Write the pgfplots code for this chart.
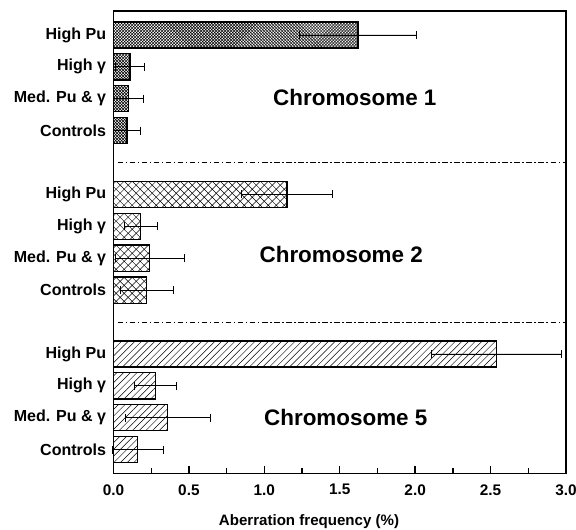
\documentclass[border=0pt]{standalone}
\usepackage{fontspec}
\setmainfont{Liberation Sans}
\usepackage{pgfplots}
\pgfplotsset{compat=1.18}
\usepackage{pgfplotstable}
\usetikzlibrary{patterns}

\pgfdeclarepatternformonly{densecross}{\pgfqpoint{-0.5pt}{-0.5pt}}{\pgfqpoint{2.75pt}{2.75pt}}{\pgfqpoint{2.25pt}{2.25pt}}{%
  \pgfsetlinewidth{0.35pt}%
  \pgfpathmoveto{\pgfqpoint{0pt}{0pt}}\pgfpathlineto{\pgfqpoint{2.25pt}{2.25pt}}%
  \pgfpathmoveto{\pgfqpoint{0pt}{2.25pt}}\pgfpathlineto{\pgfqpoint{2.25pt}{0pt}}%
  \pgfusepath{stroke}}
\pgfdeclarepatternformonly{widecross}{\pgfqpoint{-0.5pt}{-0.5pt}}{\pgfqpoint{6.5pt}{6.5pt}}{\pgfqpoint{6pt}{6pt}}{%
  \pgfsetlinewidth{0.35pt}%
  \pgfpathmoveto{\pgfqpoint{0pt}{0pt}}\pgfpathlineto{\pgfqpoint{6pt}{6pt}}%
  \pgfpathmoveto{\pgfqpoint{0pt}{6pt}}\pgfpathlineto{\pgfqpoint{6pt}{0pt}}%
  \pgfusepath{stroke}}
\pgfdeclarepatternformonly{nelines}{\pgfqpoint{-0.5pt}{-0.5pt}}{\pgfqpoint{5.5pt}{5.5pt}}{\pgfqpoint{5pt}{5pt}}{%
  \pgfsetlinewidth{0.35pt}%
  \pgfpathmoveto{\pgfqpoint{0pt}{0pt}}\pgfpathlineto{\pgfqpoint{5pt}{5pt}}%
  \pgfusepath{stroke}}

\pgfplotstableread{
p v e
13 1.62 0.39
12 0.11 0.095
11 0.10 0.10
10 0.09 0.09
}\chrone
\pgfplotstableread{
p v e
8 1.15 0.30
7 0.18 0.11
6 0.24 0.23
5 0.22 0.175
}\chrtwo
\pgfplotstableread{
p v e
3 2.54 0.43
2 0.28 0.14
1 0.36 0.28
0 0.16 0.17
}\chrfive

\begin{document}
\begin{tikzpicture}
\begin{axis}[
  scale only axis,
  width=339pt, height=346.5pt,
  xmin=0, xmax=3, ymin=-0.75, ymax=13.75,
  axis line style={line width=1pt},
  xtick={0,0.5,...,3},
  minor x tick num=1,
  xtick pos=bottom,
  tick align=inside,
  major tick length=5.5pt, minor tick length=4pt,
  every tick/.style={black, line width=1pt},
  ytick={0,1,2,3,5,6,7,8,10,11,12,13},
  yticklabels={Controls, Med. Pu \& γ, High γ, High Pu,
               Controls, Med. Pu \& γ, High γ, High Pu,
               Controls, Med. Pu \& γ, High γ, High Pu},
  ytick style={draw=none},
  ytick pos=left,
  yticklabel style={font=\bfseries\fontsize{12}{14}\selectfont, xshift=-2pt},
  xticklabel style={font=\bfseries\fontsize{11.5}{13}\selectfont, yshift=-4.5pt},
  /pgf/number format/assume math mode=true,
  /pgf/number format/.cd, fixed, fixed zerofill, precision=1, /pgfplots/.cd,
  xlabel={Aberration frequency (\%)},
  xlabel style={font=\bfseries\fontsize{11.3}{13}\selectfont, yshift=-8pt, xshift=-23pt},
  clip=false,
]
\addplot[xbar, bar shift=0pt, bar width=0.82, draw=black, line width=1pt, pattern=densecross,
  error bars/.cd, x dir=both, x explicit,
  error bar style={line width=0.6pt, black},
  error mark options={black, line width=0.6pt, mark size=3pt, rotate=90}]
  table[x=v, y=p, x error=e]{\chrone};
\addplot[xbar, bar shift=0pt, bar width=0.82, draw=black, line width=1pt, pattern=widecross,
  error bars/.cd, x dir=both, x explicit,
  error bar style={line width=0.6pt, black},
  error mark options={black, line width=0.6pt, mark size=3pt, rotate=90}]
  table[x=v, y=p, x error=e]{\chrtwo};
\addplot[xbar, bar shift=0pt, bar width=0.82, draw=black, line width=1pt, pattern=nelines,
  error bars/.cd, x dir=both, x explicit,
  error bar style={line width=0.6pt, black},
  error mark options={black, line width=0.6pt, mark size=3pt, rotate=90}]
  table[x=v, y=p, x error=e]{\chrfive};
\addplot[black, line width=0.6pt, dash pattern=on 4pt off 2pt on 1pt off 2pt] coordinates {(0.03,9) (3,9)};
\addplot[black, line width=0.6pt, dash pattern=on 4pt off 2pt on 1pt off 2pt] coordinates {(0.03,4) (3,4)};
\node[font=\bfseries\fontsize{16.8}{19}\selectfont] at (axis cs:1.6,11.04) {Chromosome 1};
\node[font=\bfseries\fontsize{16.8}{19}\selectfont] at (axis cs:1.51,6.13) {Chromosome 2};
\node[font=\bfseries\fontsize{16.8}{19}\selectfont] at (axis cs:1.54,1.0) {Chromosome 5};
\coordinate (ll) at (rel axis cs:0,0);
\coordinate (ur) at (rel axis cs:1,1);
\end{axis}
\pgfresetboundingbox
\path ([xshift=-85pt, yshift=-42pt]ll) rectangle ([xshift=7.5pt, yshift=8.25pt]ur);
\end{tikzpicture}
\end{document}
